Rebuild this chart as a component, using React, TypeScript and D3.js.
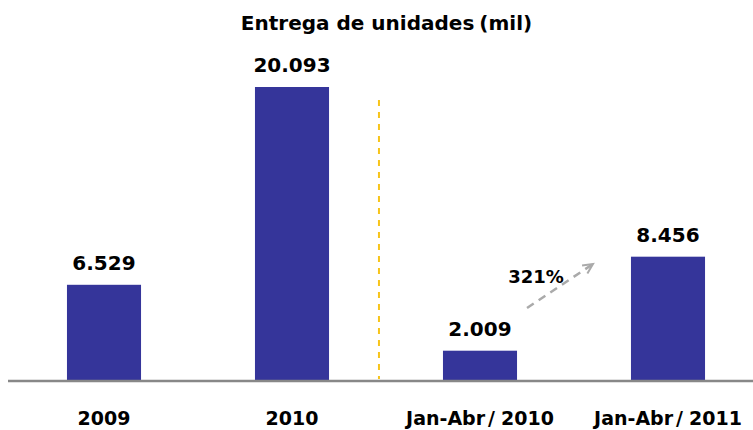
import React from "react";
import * as d3 from "d3";

const categories = ["2009", "2010", "Jan-Abr/2010", "Jan-Abr/2011"];
const values = [6529, 20093, 2009, 8456];
const valueLabels = ["6.529", "20.093", "2.009", "8.456"];
const title = "Entrega de unidades (mil)";
const growthLabel = "321%";

const W = 753;
const H = 430;
const baseY = 380;
const font = "'DejaVu Sans', Verdana, sans-serif";

function CatLabel({ label, x, y }: { label: string; x: number; y: number }) {
  const parts = label.split("/");
  if (parts.length < 2) {
    return (
      <text x={x} y={y} textAnchor="middle" fontSize={19} fontWeight="bold" fill="#000">
        {label}
      </text>
    );
  }
  return (
    <text x={x} y={y} textAnchor="middle" fontSize={19} fontWeight="bold" fill="#000">
      <tspan>{parts[0]}</tspan>
      <tspan dx={3}>/</tspan>
      <tspan dx={6}>{parts[1]}</tspan>
    </text>
  );
}

export default function App() {
  const x = d3.scaleBand<string>().domain(categories).range([10, 762]).paddingInner(0.606).paddingOuter(0.303);
  const y = d3.scaleLinear().domain([0, d3.max(values) as number]).range([baseY, 87]);
  const bw = x.bandwidth();
  const c = (i: number) => (x(categories[i]) as number) + bw / 2;
  const sepX = (x(categories[2]) as number) - 64;

  const a0x = x(categories[2])! + bw + 10;
  const a0y = 308;
  const a1x = x(categories[3])! - 38;
  const a1y = 264;
  const ang = Math.atan2(a1y - a0y, a1x - a0x);
  const hl = 11;
  const h1 = [a1x - hl * Math.cos(ang - 0.45), a1y - hl * Math.sin(ang - 0.45)];
  const h2 = [a1x - hl * Math.cos(ang + 0.45), a1y - hl * Math.sin(ang + 0.45)];

  return (
    <svg width={W} height={H} style={{ position: "absolute", left: 0, top: 0, background: "#fff" }} fontFamily={font}>
      <text x={W / 2 + 10} y={30} textAnchor="middle" fontSize={20} fontWeight="bold" fill="#000">
        <tspan>Entrega de unidades</tspan>
        <tspan dx={5}>(mil)</tspan>
      </text>
      {values.map((v, i) => (
        <g key={i}>
          <rect x={x(categories[i])} y={y(v)} width={bw} height={baseY - y(v)} fill="#35359a" />
          <text x={c(i)} y={y(v) - 15} textAnchor="middle" fontSize={20} fontWeight="bold" fill="#000">
            {valueLabels[i]}
          </text>
          <CatLabel label={categories[i]} x={c(i)} y={425} />
        </g>
      ))}
      <line x1={8} x2={753} y1={baseY + 1} y2={baseY + 1} stroke="#888" strokeWidth={2.5} />
      <line x1={sepX} x2={sepX} y1={100} y2={379} stroke="#f7c41a" strokeWidth={2} strokeDasharray="6,6" />
      <line x1={a0x} y1={a0y} x2={a1x} y2={a1y} stroke="#aaa" strokeWidth={2.5} strokeDasharray="8,6" />
      <polyline points={`${h1[0]},${h1[1]} ${a1x},${a1y} ${h2[0]},${h2[1]}`} fill="none" stroke="#aaa" strokeWidth={2} />
      <text x={536} y={283} textAnchor="middle" fontSize={18} fontWeight="bold" fill="#000">
        {growthLabel}
      </text>
    </svg>
  );
}
